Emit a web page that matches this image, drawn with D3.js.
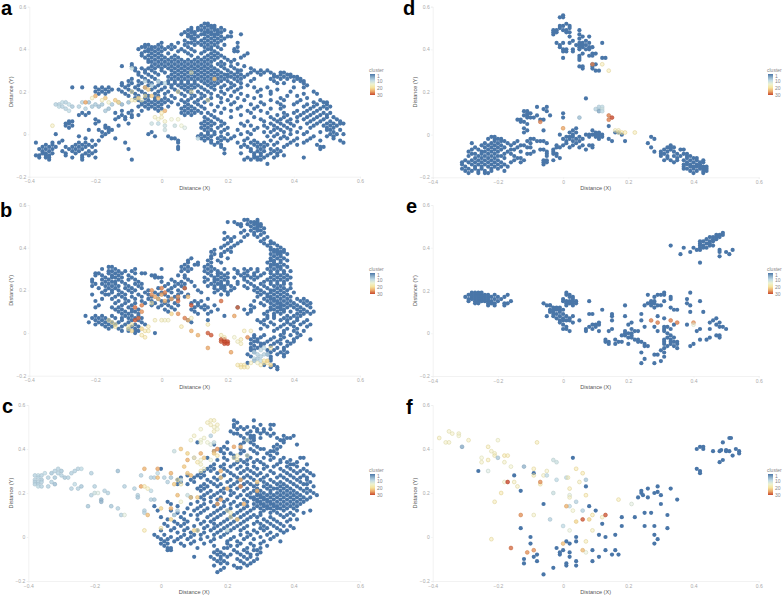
<!DOCTYPE html>
<html><head><meta charset="utf-8">
<script src="https://cdn.jsdelivr.net/npm/d3@7"></script>
<style>html,body{margin:0;padding:0;background:#fff}svg{display:block}</style>
</head><body><div id="chart"></div>
<script>
// Values are in hundredths of distance. Blue rows: [y, x, x, ...]; cluster points: [x, y, cluster].
const xTicks=[-0.4,-0.2,0,0.2,0.4,0.6];
const yTicks=[-0.2,0,0.2,0.4,0.6];
const clusterStops=[1,5,10,15,20,25,30];
const clusterColors=["#4a76a8","#86aac6","#c2dce6","#edf2cf","#f6e39b","#eba768","#c8482c"];
const legendLabels=[1,10,20,30];

const aBlue=[[52,13,14],[51,12,14,15,16],[50,9,11,13,15,16,18],[49,8,9,11,12,14,16,17,19],[48,7,9,10,13,14,15,17,18,21],[47,6,8,10,12,13,15,16,17,24],[46,8,9,11,14,16,18,20,21],[45,9,10,13,15,17,19],[44,7,10,12,14,16,18],[43,0,5,8,9,11,13,15,17,23],[42,-5,-4,-1,3,7,10,12,14,16,19],[41,-6,-5,-3,-2,0,2,4,8,13,15,17,23],[40,-7,-4,-3,-1,1,3,6,9,14,15,18,22],[39,-5,-4,-2,0,5,7,10,13,16,22,23],[38,-6,-3,-1,2,8,12,15,17,26],[37,-6,-4,-2,0,4,9,14,16,18,25],[36,-5,-3,-1,1,3,5,11,13,15,17,19,24],[35,-4,-2,0,2,4,6,8,10,12,14,16,20,22],[34,-4,-3,-1,1,3,5,7,9,11,13,15,18,21],[33,-9,-2,0,2,4,6,8,10,12,14,17,19,23],[32,-12,-9,-3,-1,1,3,5,7,9,11,13,15,18,21,25],[31,-8,-6,-4,-2,0,2,4,6,8,10,12,14,16,19,22,27],[30,-8,-5,-3,0,3,5,7,9,11,13,15,17,20,23,24,28,30,32],[29,-7,-5,-2,1,4,6,8,10,12,14,16,18,21,23,27,29,31,33,36,37],[28,-7,-4,-1,3,5,7,9,11,13,15,17,19,20,22,24,26,30,34,36,38,39],[27,-6,-3,2,4,6,8,10,12,14,16,18,20,21,23,25,34,35,37,39,40,41],[26,-9,-5,-2,3,5,7,9,11,13,15,17,19,22,24,28,33,36,38,41,42],[25,-10,-7,-4,-1,2,4,6,8,10,12,14,16,18,20,23,27,34,40,42,43],[24,-12,-9,-6,-3,0,2,4,6,8,10,13,15,17,21,24,35,37,43],[23,-12,-10,-7,-4,-1,3,5,7,9,11,14,16,19,22,26,44],[22,-11,-8,-5,-2,1,3,6,8,10,12,15,18,21,24,28,32,40,43],[22,-27,-24,-20,-18,-16],[21,-19,-17,-15,-13,-10,-7,-3,0,4,7,9,13,16,20,23,30,35],[20,-20,-18,-16,-12,-9,-6,-1,2,5,8,11,14,18,22,29,33,39,46],[19,-19,-17,-11,-8,-5,-2,1,6,9,12,15,19,24,33,43,47],[18,-10,-7,-4,-1,3,7,10,13,17,21,26,30,38,41],[17,-8,-5,-2,1,4,9,12,15,18,23,28,36,44],[16,-7,-4,-2,0,2,6,8,11,14,20,25,33,37,42,48],[15,-6,-5,-3,-1,1,3,7,10,13,18,22,30,35,41,46,49,50],[14,-6,-4,-2,0,5,8,11,15,21,27,31,36,40,44,47,50],[13,-7,-5,-3,-1,2,7,9,12,17,24,29,37,43,46,49,51],[12,-4,-2,0,6,8,10,13,19,23,28,33,36,45,48,50],[11,-12,-9,-6,-1,7,9,11,16,21,26,30,41,44,47],[10,-24,-22,-14,-10,6,8,10,12,14,18,27,32,37,40,43,46,49,51],[9,-25,-23,-12,-9,-7,7,9,15,24,35,38,42,45,48,50],[8,-13,-11,-9,13,16,21,28,33,37,41,44,47,50,52],[7,-20,-14,-11,14,17,30,34,36,39,43,46,49,53],[6,-28,-27,-19,13,15,18,26,31,35,38,41,45,48,51,54],[5,-29,-28,-20,-10,12,14,16,19,24,33,36,39,44,47,50,52,54,55],[4,-29,-27,-17,-13,13,15,18,25,27,31,34,37,40,46,49,51,53],[3,-28,-17,-16,12,14,17,20,29,32,35,38,42,45,50,52],[2,-22,-19,-16,-15,13,15,19,23,28,34,36,39,50,51,54],[1,-18,-16,-3,14,16,18,26,31,33,37,41,44,48,52],[0,-32,-17,-4,12,14,16,20,24,27,35,39,43,51,53,55],[-1,-25,-18,-2,2,11,13,15,18,22,32,34,37,46,50,52],[-2,-23,-14,3,4,12,14,17,19,21,26,36,38,41,45,52],[-3,-30,-21,-19,5,13,15,18,20,25,28,33,40,44,48,54],[-4,-38,-33,-31,-25,-23,-11,5,15,17,23,27,29,31,35,39,43,55],[-5,-35,-33,-26,-24,-22,-20,16,18,25,28,30,32,34,38,41,47],[-6,-36,-34,-32,-29,-27,-25,-23,-21,5,18,24,26,29,31,37,48,49],[-7,-37,-35,-33,-28,-26,-24,-10,5,19,27,30,33,35,48],[-8,-36,-34,-30,-27,-25,-22,-20,27,29,31,34,36],[-9,-36,-35,-33,-29,-26,-23,-21,19,24,28,30,33,35],[-10,-38,-37,-35,-34,-29,-24,-22,28,30,32,35,37],[-11,-37,-35,-34,-27,-24,-20,26,28,29,31,34,43],[-12,-34,-24,-9,25,27,29,30],[-14,32]];
const aCluster=[[-32,14,9],[-31,14,9],[-31,13,10],[-30,15,10],[-30,13,9],[-29,15,9],[-29,12,9],[-28,14,10],[-28,11,10],[-27,13,8],[-25,13,9],[-24,15,9],[-23,12,9],[-22,15,7],[-21,13,8],[-20,14,8],[-19,13,7],[-18,14,8],[-17,11,8],[-16,12,7],[-15,14,8],[-13,15,7],[-12,14,6],[-10,15,7],[-14,16,22],[-13,15,21],[-17,17,22],[-18,16,18],[-16,15,17],[-23,15,25],[-20,18,24],[-21,17,18],[-7,17,21],[-5,18,20],[-4,21,22],[-5,22,23],[-3,18,22],[-1,17,23],[-8,16,19],[-9,16,18],[-6,16,17],[1,11,24],[0,10,20],[0,8,18],[-2,8,17],[-1,7,16],[1,6,17],[3,7,15],[5,7,16],[6,4,15],[-3,5,11],[-1,5,10],[1,4,11],[4,4,11],[7,3,12],[1,2,11],[11,-2,10],[-33,4,18],[-3,23,9],[-1,25,10],[1,24,10],[-9,31,11],[-5,25,9],[5,20,20],[9,20,19],[16,26,23],[9,29,18],[14,16,19],[-9,20,19]];

const bBlue=[[53,25,26,29],[52,20,22,27,28,29],[51,23,24,26,28,29,30],[50,24,27,29,30],[49,28,29,31],[48,25,27,29,30],[47,19,24,28,31],[46,26,28,30],[45,20,22,25,29,32],[44,19,21,31],[43,21,24,30,33],[42,20,23,31,33,34],[41,19,22,32,35],[40,18,21,33,36],[39,16,20,33,34,35,37],[38,15,19,21,34,35,36,37],[37,16,18,33,35,36,38],[36,15,18,34,36],[35,9,15,20,33,35,37],[34,8,14,17,33,34,36,38],[33,8,11,15,18,32,34,36],[32,7,10,11,14,33,34,35,37],[31,-16,-15,6,8,13,15,33,35,36,38],[30,-18,-14,-8,0,7,9,14,16,19,22,25,27,29,32,34,36],[29,-16,-15,-13,-11,-9,6,8,13,15,17,23,26,29,33,35,37,39],[28,-20,-19,-16,-14,-12,-8,-6,-5,14,17,18,20,23,25,28,31,33,35,37],[27,-20,-18,-15,-13,-10,-3,-2,5,7,15,17,19,24,26,28,30,34,36,38],[26,-17,-15,-14,-12,-9,-2,-1,0,7,13,16,18,20,22,25,27,29,33,35,37,39],[25,-21,-18,-16,-13,-10,-8,3,8,14,16,17,19,25,28,32,34,36,38],[24,-21,-17,-15,-14,-12,-7,0,4,6,9,13,16,18,20,23,26,31,33,35,37],[23,-20,-18,-16,-14,-11,-8,-6,2,5,7,15,17,18,20,23,27,30,33,35,37,39],[22,-21,-17,-15,-13,-10,-7,1,4,6,10,14,16,18,19,21,25,28,31,34,36],[21,-19,-16,-14,-11,-9,-6,-1,3,7,16,18,19,22,26,29,32,35,37,39],[20,-17,-15,-13,-10,-8,-4,2,5,11,17,19,21,28,30,33,34,36,38],[19,-18,-15,-12,-9,-5,-2,0,3,6,12,16,20,29,31,33,35,37,40],[18,-21,-17,-16,-13,-11,-7,-4,-1,1,5,8,18,20,30,32,34,36,38],[17,-14,-12,-9,-6,-3,2,4,7,29,32,33,35,37,39],[16,-18,-15,-11,-8,-4,-1,3,5,14,31,33,34,36,38,41,43],[15,-20,-13,-10,-6,-3,0,2,10,12,28,32,34,35,37,39,42,44],[14,-14,-11,-8,-5,-2,1,4,9,11,30,33,35,36,38,40,43,45],[13,-19,-12,-9,-3,0,2,5,11,13,16,27,31,34,36,37,39,41,44],[12,-20,-15,-13,-10,-1,3,10,12,14,23,28,33,35,36,38,40,42,45],[11,-14,-12,-9,-7,1,4,9,13,17,25,27,33,34,36,37,41,43],[10,-13,-11,-9,-8,2,10,15,27,32,35,37,39,42,44,46],[9,-12,-10,-7,11,14,26,31,34,36,41,43,45],[8,-23,-20,-18,-15,-11,-9,-7,19,32,34,38,40,42],[7,-21,-19,-17,-14,-12,-10,-8,-6,32,34,37,39,41],[6,-20,-18,-16,-12,-9,-7,8,14,29,31,36,38,41,44],[5,-22,-19,-17,-15,-13,-10,-6,9,30,33,38,40,43],[4,-20,-18,-16,-14,-11,-8,-5,31,34,37,39,42,45],[3,-17,-15,-12,-9,-7,32,36,40,44],[2,-16,-13,-10,-8,30,35,38,41],[1,-12,-10,-8,-7,34,37,40,43],[0,-8,-2,37,41],[-1,28,31,36,39,42],[-2,28,30,34,37,41],[-3,27,29,33,36,40,45],[-4,28,29,32,35,38,40],[-5,27,30,31,34,36,39],[-6,28,30,33,38],[-7,27,29,35,37],[-8,27,28,32,34,37],[-9,28,33,36,38],[-10,26,32,35,37],[-11,27,33,37],[-12,33],[-13,33],[-14,26],[-15,31,34],[-16,33,35],[-17,35]];
const bCluster=[[-16,6,19],[-15,5,20],[-14,4,19],[-14,3,20],[-9,4,20],[-10,3,19],[-10,2,19],[-9,1,21],[-6,2,21],[-5,1,20],[-6,-1,20],[-4,1,19],[-5,-2,20],[-4,3,20],[-2,6,18],[0,6,18],[1,6,17],[2,6,17],[3,9,21],[6,3,20],[8,6,24],[9,7,18],[5,9,26],[7,7,27],[-8,12,28],[-6,10,26],[-8,6,29],[-7,7,28],[-6,13,27],[-3,18,26],[-3,20,26],[-2,17,25],[0,21,27],[0,18,25],[1,19,27],[-1,16,23],[1,15,24],[3,16,25],[5,15,28],[5,17,26],[8,17,23],[7,21,28],[9,13,29],[-3,14,20],[9,1,24],[11,-1,24],[14,0,29],[15,-1,29],[14,-7,25],[14,4,19],[18,-1,19],[18,-3,29],[18,-4,29],[19,-3,30],[19,-5,30],[20,-4,30],[19,-4,30],[20,-5,30],[21,-9,25],[19,-2,18],[18,15,28],[22,8,25],[23,12,28],[22,-2,16],[23,-4,17],[24,-3,19],[24,-5,18],[25,1,19],[26,-2,26],[27,1,18],[23,-15,20],[24,-15,20],[25,-15,20],[25,-16,20],[24,-16,20],[26,-16,19],[28,-12,10],[28,-9,9],[29,-10,9],[30,-8,10],[30,-11,9],[29,-12,8],[30,-13,10],[31,-10,9],[31,-7,10],[32,-10,9],[28,-13,7],[29,-14,16],[30,-15,19],[31,-14,20],[32,-14,20],[32,-13,21],[33,-15,21],[31,-13,20],[33,-7,20],[27,-14,18]];

const cBlue=[[53,22,28],[52,23],[51,22,30,33,34],[50,22,24,26,28],[49,23,25,29,31,33],[48,21,27,29,31],[47,22,23,26,30,32,34],[46,24,27,28,33,37,40],[45,25,27,28,30,35,38,39],[44,26,28,36,37],[43,11,20,25,27,37],[42,16,24,28,35,41],[41,19,29,34,36],[40,18,20,24,27,30,31,35],[39,16,18,25,28,33,34],[38,19,21,24,29,32,35],[37,22,26,33],[36,14,19,22,27,31,34,37,42,43],[35,17,20,24,26,29,33,36,39],[34,23,25,28,30,36,38,41],[33,16,19,22,26,31,35,39,40,44],[32,15,18,21,24,28,32,34,38,41],[31,0,14,16,19,23,26,29,31,36,39,43],[30,13,15,20,25,27,33,37,40,42,44],[29,12,17,21,24,28,30,34,38,41,45],[28,8,11,13,19,22,26,29,32,36,39,43,46],[27,6,10,12,16,18,23,25,27,31,35,37,40,42,44],[26,5,9,14,17,21,24,28,30,33,38,41,44],[25,6,10,15,20,23,26,31,34,36,39,42,45],[24,5,8,13,16,18,22,25,27,29,32,35,37,40,43,44],[23,12,14,17,21,24,28,31,33,36,38,41,46],[22,11,13,19,23,26,29,32,34,35,37,39,42,44],[21,12,15,18,21,25,28,30,33,36,38,40,43,45],[20,14,17,19,22,27,29,31,33,35,37,39,41,44,46],[19,13,16,21,24,26,29,30,32,34,36,38,40,42,47],[18,9,12,15,18,23,27,28,30,31,33,35,37,39,41,43,45],[17,13,17,20,25,28,29,31,32,34,36,38,40,42,44],[16,2,11,15,19,22,26,29,30,32,33,35,37,39,41,43],[15,3,9,13,17,21,24,28,30,31,33,34,36,38,40,42],[14,-2,5,12,16,19,23,26,29,31,32,34,35,37,39,41],[13,8,11,14,18,21,25,28,30,32,33,35,36,38,40],[12,-1,3,10,13,17,20,24,27,31,34,37,41,45],[11,5,7,12,16,19,23,26,30,33,35,39,43],[10,4,9,11,15,18,22,25,28,30,36,38,40],[9,0,6,14,17,21,24,27,29,33,37],[8,2,7,11,16,20,23,26,31,34,39,41],[7,4,8,13,15,19,22,25,29,32,35,38],[6,1,5,7,12,16,18,21,24,28,30,33,36],[5,2,6,10,14,17,20,23,26,31,34,37,39],[4,4,8,13,16,19,22,25,30,32,35,40],[3,0,3,7,11,15,18,21,24,28,31,36,38],[2,5,9,13,17,20,26,29,33,37],[1,-2,1,7,10,12,16,19,24,27,32,35],[0,-1,3,6,9,14,18,22,26,30,34],[-1,0,2,5,8,12,16,21,25,28,33],[-2,1,4,10,15,20,23,31,36],[-3,0,2,6,9,13,20,24,27,30],[-4,1,7,16,21,23,28,32],[-5,2,3,11,19,20,26,30],[-6,2,3,17,22,25,28,29],[-7,16,18,23,26,30],[-8,17,19,21,24,27,29],[-9,10,15,18,20,25,27],[-10,16,18,23,26,29],[-11,17,19,24,28],[-12,18,20,25,27],[-13,16,22,26],[-14,19,23,24],[-15,18],[-16,17]];
const cCluster=[[-38,28,9],[-38,26,9],[-38,25,9],[-38,24,9],[-37,28,10],[-37,27,9],[-37,25,9],[-37,24,9],[-37,23,10],[-36,28,9],[-36,26,8],[-36,25,9],[-36,23,9],[-35,29,10],[-34,27,9],[-34,23,9],[-33,25,9],[-33,29,8],[-32,30,9],[-32,27,8],[-32,24,7],[-31,31,9],[-31,29,9],[-30,30,8],[-30,28,9],[-29,27,8],[-28,27,9],[-27,22,9],[-27,29,9],[-26,24,10],[-26,30,9],[-25,31,9],[-25,22,9],[-24,31,10],[-24,23,8],[-21,29,9],[-21,19,9],[-20,23,9],[-20,20,11],[-22,14,8],[-19,20,12],[-18,17,6],[-18,16,6],[-17,21,9],[-16,20,9],[-15,14,8],[-13,30,7],[-13,13,9],[-11,23,9],[-12,10,9],[-11,10,13],[-8,22,9],[-7,19,9],[-7,18,8],[-6,28,9],[-5,12,9],[-5,11,9],[-3,17,9],[-2,17,8],[-3,21,10],[-3,27,9],[-2,27,9],[-1,29,10],[1,27,9],[2,25,9],[4,10,10],[4,39,11],[5,12,9],[3,27,8],[6,26,11],[8,19,11],[-5,31,24],[-6,23,25],[-5,23,20],[-4,10,23],[-5,3,20],[-4,22,18],[-1,31,25],[-1,27,23],[0,13,21],[3,13,24],[3,8,21],[0,4,20],[3,29,24],[4,24,22],[5,19,23],[5,26,20],[6,24,19],[6,40,22],[6,16,16],[7,32,22],[8,35,24],[8,29,22],[8,38,21],[9,28,23],[9,18,22],[10,3,21],[10,36,22],[11,34,20],[11,18,22],[11,3,19],[12,30,18],[12,38,24],[13,36,22],[13,31,17],[9,44,16],[10,46,17],[12,44,15],[12,49,16],[12,43,15],[13,45,16],[14,43,15],[15,42,13],[15,35,14],[10,36,12],[12,35,16],[12,33,17],[14,52,18],[15,51,18],[15,53,18],[16,50,17],[16,53,18],[17,51,18],[17,49,16],[16,48,18],[15,46,9],[16,43,11],[16,39,24],[17,40,26],[16,38,22],[17,37,20],[18,27,22],[18,17,25],[17,15,25],[18,30,24],[20,22,24],[20,12,17],[21,11,18],[21,9,19],[22,36,17],[22,41,25],[23,35,19],[24,41,24],[24,23,26],[24,26,24],[23,8,22],[23,37,18],[26,37,16],[26,44,14],[25,15,24],[29,25,22],[29,21,24],[20,3,11]];

const dBlue=[[56,0],[55,-1,0],[52,1],[51,-1,0,2],[50,-1,2],[49,-3,-2,0,1,5],[48,-3,-2,1,2],[47,-3,5],[46,2,6,8],[45,5],[44,3,7],[43,-2,0,2,5,6,8,12],[42,-1,4,5,6,7],[41,-1,5,6,8,9],[40,0,1,3,5,7,8],[39,0,1,3],[38,6,9,10],[37,5,8,9],[36,0,5,12,13],[35,5],[33,9,10],[32,5,6,9],[31,6,9],[30,10,11],[17,7],[13,-8,-5],[12,-6],[11,-5,-12,-11],[10,-11,-10,0],[9,-12,-8,-4,-11],[8,-11,-9,-10,0],[7,-14,-7,-6,-13],[6,-13,-12],[5,-11],[4,14],[3,-12,4],[2,-11,3,9,-6],[1,-12,2,4,10,11,16,17],[0,-1,3,7,8,9,10,11,12,18],[-1,-22,-21,1,2,3,5,8,10,11,12,27],[-2,-23,-21,-20,-19,-10,-9,0,2,4,6,11,14,28],[-3,-21,-19,-18,-14,-11,-8,-7,-6,1,3,5,15,19],[-4,-28,-24,-22,-20,-17,-15,-10,-5,1,4,26],[-5,-25,-23,-21,-19,-16,-13,-12,-2,0,3,8,9,6,33],[-6,-27,-24,-22,-20,-18,-14,-11,-10,-1,-2,2,5,9,27,32,33,34],[-7,-28,-26,-23,-21,-19,-16,-15,-7,-6,7,-3,31,33,36,37],[-8,-29,-25,-24,-22,-20,-17,-13,-5,-3,-9,28,30,32,34],[-9,-28,-27,-25,-23,-21,-18,-16,-11,-10,-5,-2,-3,30,31,35,37,38],[-10,-29,-26,-24,-22,-20,-19,-15,-5,-2,30,32,34,36,38,39],[-11,-27,-25,-23,-21,-18,-14,-13,-1,32,35,38,40,41],[-12,-30,-28,-26,-24,-22,-20,-15,-12,-6,-5,-3,31,33,35,37,39,41,43],[-13,-31,-29,-27,-25,-23,-21,-19,-16,-13,-5,-6,34,38,40,42,43],[-14,-31,-28,-26,-24,-22,-20,-18,-6,37,38,39,41,42],[-15,-30,-27,-25,-23,-21,-19,-17,37,39,40,41,42,43,44],[-16,-31,-29,-27,-25,-22,-20,37,38,40,42,43,44],[-17,-30,-28,-26,-24,-22,-18,39,41,43,44],[-18,-29,-26,-24,-23,40,43]];
const dCluster=[[9,33,27],[12,33,19],[14,30,19],[10,12,9],[11,12,10],[11,13,9],[12,13,10],[12,12,11],[11,11,5],[12,11,10],[5,8,7],[14,9,27],[14,7,27],[15,8,30],[-7,6,27],[0,3,25],[16,2,18],[17,2,18],[17,1,19],[18,1,20],[19,1,20],[22,1,19]];

const eBlue=[[47,49],[46,47,48,49],[45,45,46,47,48],[44,44,46,47],[43,42,43,45,46],[42,42,44,45],[41,33,43,42,45,46],[40,37,40,42,43,44],[39,41,42,48,52],[38,39,48,50],[37,36,51],[36,48],[33,42],[19,1,31,39],[18,-27,-26,-25,-24,1,2,26,29,31,30],[19,-28,-27,-26,-25],[18,-29,-28,-23,-21,-17],[17,-30,-28,-27,-26,-25,-24,-23,-22,-20,-18,2,3,28,33],[16,-29,-28,-27,-26,-25,-24,-23,-21,-19,0,3,33,38],[15,-29,-27,-26,-25,-24,-23,-22,-20,-16,0,1,2,3,4,8,27,28,31,42],[14,-27,-26,-22,-17,-6,1,2,3,4,26,27,38],[14,-23,-21,-18,28],[13,-23,-21,-5,1,3,25,27,29,39],[13,-18,-4,-4,30,19],[12,-3,-2,-1,28,33],[11,-4,-3,-2,-1,0,12,34,35],[10,-4,-3,-1,39,43],[9,-3,-2,0,8,9,15,24],[8,-5,-3,-1,1,3,15,19,29],[7,-2,0,2,31,47],[6,-1,0,1,2,5,15,24,46],[5,-1,3,11,21,45,48],[4,0,9,10,11,20,34,38,47],[3,1,8,10,25,28,31,32,48,49],[2,0,1,7,9,15,21,33,31,45,42,50],[1,2,7,11,14,19,22,23,29,31,41],[0,19,20,21,32],[-1,18,19,21,33,47,48],[-2,20,21,32,34,45,48],[-3,13,16,22,23,31,33,42,44],[-4,13,17,14,18,23,24,31,33,34,35],[-5,14,16,20,25,31,33,35,40],[-6,25,32,26,34,39],[-7,35,31],[-8,30],[-9,24,31],[-10,28,29],[-11,31],[-12,25],[-13,30],[-14,24,28]];
const eCluster=[[27,6,27],[29,5,27],[33,6,27],[35,5,27],[40,5,26],[40,4,14]];

const fBlue=[[30,-26],[28,-15],[29,-9],[21,-14],[15,-6],[36,3],[23,7],[14,8],[12,10],[6,12],[4,-13],[0,-10],[-3,-10],[-10,-12],[-12,-12],[-8,-8],[-9,-9],[-11,-8],[-17,-6],[-14,-3],[-5,-2],[-7,-1],[-8,-1],[-6,0],[-2,1],[-3,2],[0,4],[-2,4],[-7,2],[-9,2],[-12,1],[-13,1],[-11,4],[-13,4],[-6,9],[-11,9],[-9,11],[1,11],[0,13],[-6,13],[-6,16],[-8,15],[-8,17],[1,16],[9,18],[5,18],[9,22],[5,25],[11,25],[11,27],[5,28],[1,28],[-1,29],[-3,28],[10,32],[4,32],[18,23],[21,24],[20,24],[19,24],[22,26],[18,26],[23,29],[20,28],[20,29],[19,30],[15,30],[22,33],[17,35],[40,41],[41,42],[41,43],[40,43],[39,46],[39,48],[39,49],[43,49],[45,51],[45,51],[39,50],[39,51],[37,52],[40,53],[39,54],[38,54],[35,49],[34,48],[31,41],[30,42],[29,42]].map(d=>[d[0],d[1]]);
const fBluePairs=[[-26,30],[-15,28],[-9,29],[-13,21],[-6,15],[3,36],[7,23],[8,14],[10,12],[12,6],[-13,4],[-10,0],[-10,-3],[-12,-10],[-12,-12],[-8,-8],[-9,-9],[-8,-11],[-6,-17],[-3,-14],[-2,-5],[-1,-7],[-1,-8],[0,-6],[1,-2],[2,-3],[4,0],[4,-2],[2,-7],[2,-9],[1,-12],[1,-13],[4,-11],[4,-13],[9,-6],[9,-11],[11,-9],[11,1],[13,0],[13,-6],[16,-6],[15,-8],[17,-8],[16,1],[18,9],[18,5],[22,9],[25,5],[25,11],[27,11],[28,5],[28,1],[29,-1],[28,-3],[32,10],[32,4],[23,18],[24,21],[24,20],[24.5,19],[26,22],[26,18],[29,23],[28,20],[29,20.5],[30,19],[30,15],[33,22],[35,17],[41,40],[42,41],[43,41],[43,40],[46,39],[48,39],[48.5,39.5],[49,43],[51,45],[51.5,45],[50,39],[51,39],[50,39.5],[52,37],[53,40],[54,39],[54,38],[49,35],[48,34],[41,31],[42,30],[42,29]];
const fCluster=[[-38,45,18],[-36,43,17],[-35,43,17],[-35,48,17],[-34,47,17],[-32,47,17],[-32,46,16],[-29,44,18],[-31,41,5],[-23,41,19],[-20,44,16],[-25,36,16],[-25,34,17],[-23,35,19],[-22,39,17],[-21,38,17],[-21,37,18],[-20,36,8],[-18,37,20],[-17,37,19],[-18,34,17],[-16,32,16],[-23,30,12],[-18,25,16],[-15,25,18],[-14,23,18],[-19,20,20],[-21,16,19],[-22,-1,19],[-9,10,17],[-12,32,6],[-9,31,19],[-9,28,19],[-8,43,19],[-6,28,17],[-5,30,17],[-7,24,19],[-13,10,26],[-16,-5,28],[-11,-7,26],[-9,-6,26],[-7,25,26],[-17,25,30],[-3,35,11],[-2,34,11],[-5,28,10],[-2,26,10],[1,27,10],[-3,20,11],[-4,8,9],[0,5,10],[2,3,14],[4,16,9],[2,14,10],[6,12,9],[7,26,8],[2,19,13],[21,15,13],[7,-7,14],[1.5,27,18],[4,31,20],[6,29,20],[5,25,18],[2,22,19],[7,19,20],[2,18,17],[3,12,16],[17,17,19],[12,9,18],[9,3,18],[7,-2,19],[4,7,21],[8,8,21],[9,10,20],[1,14,24],[6,8,29],[13,10,29],[0,-3,23],[6,-6,23]];

const panels=[
 {key:"a",blue:aBlue,rows:true,cl:aCluster,x0:29.3,x1:360,y0:176.7,y1:6.7,lx:1,ly:15,tx:13,legY:72,legX:369},
 {key:"b",blue:bBlue,rows:true,cl:bCluster,x0:29.3,x1:360,y0:375.7,y1:205,lx:0,ly:217,tx:13,legY:271,legX:369},
 {key:"c",blue:cBlue,rows:true,cl:cCluster,x0:28.3,x1:360,y0:581,y1:405,lx:2,ly:413,tx:13,legY:472,legX:369},
 {key:"d",blue:dBlue,rows:true,cl:dCluster,x0:432.7,x1:758.7,y0:177.3,y1:6.7,lx:403,ly:15,tx:417,legY:72,legX:767},
 {key:"e",blue:eBlue,rows:true,cl:eCluster,x0:432.7,x1:758.7,y0:376,y1:205,lx:406,ly:213,tx:417,legY:271,legX:767},
 {key:"f",blue:fBluePairs,rows:false,cl:fCluster,x0:432.7,x1:758.7,y0:581,y1:405,lx:406,ly:414,tx:417,legY:472,legX:767}
];

const color=d3.scaleLinear().domain(clusterStops).range(clusterColors).interpolate(d3.interpolateRgb);
const svg=d3.select("#chart").append("svg").attr("width",784).attr("height",599);
const defs=svg.append("defs");
defs.append("filter").attr("id","soft").attr("x","-5%").attr("y","-5%").attr("width","110%").attr("height","110%")
  .append("feGaussianBlur").attr("stdDeviation",0.35);
const grad=defs.append("linearGradient").attr("id","ramp").attr("x1",0).attr("y1",0).attr("x2",0).attr("y2",1);
clusterStops.forEach(s=>grad.append("stop").attr("offset",(s-1)/29).attr("stop-color",color(s)));

panels.forEach(p=>{
  const x=d3.scaleLinear().domain([-0.4,0.6]).range([p.x0,p.x1]);
  const y=d3.scaleLinear().domain([-0.2,0.6]).range([p.y0,p.y1]);
  const g=svg.append("g");
  const ax=g.append("g").attr("transform",`translate(0,${p.y0})`).call(d3.axisBottom(x).tickValues(xTicks).tickSize(1.5).tickPadding(1.5).tickFormat(d3.format("~g")));
  const ay=g.append("g").attr("transform",`translate(${p.x0},0)`).call(d3.axisLeft(y).tickValues(yTicks).tickSize(1.5).tickPadding(1.5).tickFormat(d3.format("~g")));
  [ax,ay].forEach(a=>{
    a.selectAll("path,line").attr("stroke","#ececec").attr("stroke-width",0.7);
    a.selectAll("text").attr("fill","#aaa").attr("font-size",5).attr("font-family","Liberation Sans");
  });
  g.append("text").attr("x",(p.x0+p.x1)/2).attr("y",p.y0+13).attr("text-anchor","middle")
    .attr("font-size",5.6).attr("font-family","Liberation Sans").attr("fill","#555").text("Distance (X)");
  g.append("text").attr("transform",`translate(${p.tx},${(p.y0+p.y1)/2}) rotate(-90)`).attr("text-anchor","middle")
    .attr("font-size",5.6).attr("font-family","Liberation Sans").attr("fill","#555").text("Distance (Y)");
  g.append("text").attr("x",p.lx).attr("y",p.ly).attr("font-size",20).attr("font-weight","bold")
    .attr("font-family","Liberation Sans").attr("fill","#000").text(p.key);

  const blue=p.rows?p.blue.flatMap(r=>r.slice(1).map(v=>[v,r[0]])):p.blue;
  const marks=g.append("g").attr("filter","url(#soft)");
  marks.selectAll("circle.b").data(blue).join("circle").attr("class","b")
    .attr("cx",d=>x(d[0]/100)).attr("cy",d=>y(d[1]/100)).attr("r",2.1).attr("fill",color(1));
  marks.selectAll("circle.c").data(p.cl).join("circle").attr("class","c")
    .attr("cx",d=>x(d[0]/100)).attr("cy",d=>y(d[1]/100)).attr("r",1.9)
    .attr("fill",d=>color(d[2])).attr("fill-opacity",d=>d[2]>=12&&d[2]<=20?0.45:0.8)
    .attr("stroke",d=>d3.color(color(d[2])).darker(0.25)).attr("stroke-width",0.6);

  const leg=g.append("g").attr("transform",`translate(${p.legX},${p.legY})`);
  leg.append("text").attr("x",0).attr("y",0).attr("font-size",5).attr("font-family","Liberation Sans").attr("fill","#888").text("cluster");
  leg.append("rect").attr("x",1).attr("y",2).attr("width",5).attr("height",21).attr("fill","url(#ramp)");
  const ly=d3.scaleLinear().domain([1,30]).range([4,23]);
  leg.selectAll("text.t").data(legendLabels).join("text").attr("class","t").attr("x",8).attr("y",d=>ly(d)+1.5)
    .attr("font-size",5).attr("font-family","Liberation Sans").attr("fill","#888").text(d=>d);
});
</script></body></html>
